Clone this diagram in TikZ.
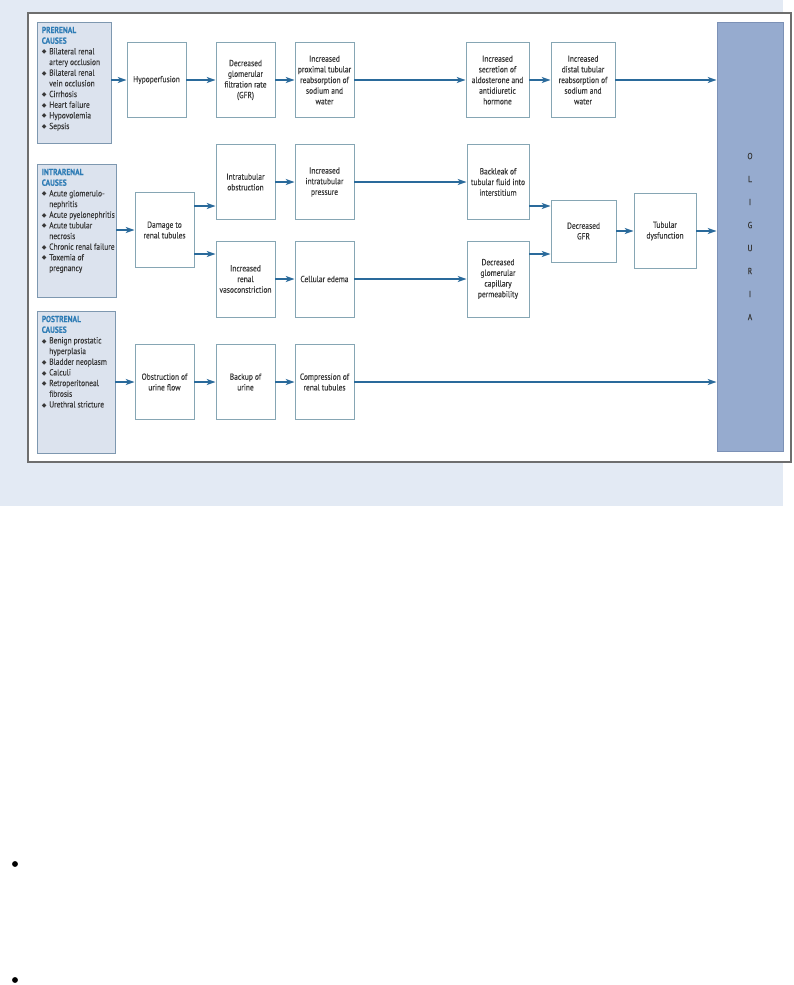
\documentclass[tikz,border=0pt]{standalone}
\usepackage{fontspec}
\setmainfont{PT Sans}[FakeStretch=0.85,FakeBold=0.15]
\newfontfamily\symfont{DejaVu Sans}
\usetikzlibrary{arrows.meta,calc}
\definecolor{bgblue}{HTML}{E3EAF4}
\definecolor{framegray}{HTML}{6E6E6E}
\definecolor{causefill}{HTML}{DCE3EE}
\definecolor{causeline}{HTML}{7E98B0}
\definecolor{boxline}{HTML}{86A6B4}
\definecolor{flowblue}{HTML}{2A6A9B}
\definecolor{headblue}{HTML}{2E7CB5}
\definecolor{txtgray}{HTML}{383838}
\definecolor{oligfill}{HTML}{96ABCF}
\definecolor{oligline}{HTML}{7C91B6}
\newcommand{\dm}{\makebox[5.6pt][l]{\raisebox{0.3pt}{\symfont\fontsize{4.6}{4.6}\selectfont ◆}}}
\newcommand{\cont}{\hspace*{5.6pt}}
\newcommand{\hd}[1]{\textcolor{headblue}{\bfseries #1}}

\begin{document}
\begin{tikzpicture}[x=0.75pt,y=-0.75pt, >={Stealth[length=6.5pt,width=4.4pt,inset=1.6pt]},
  every node/.style={font=\fontsize{6.6}{8}\selectfont, text=txtgray},
  procbox/.style={draw=boxline, fill=white, line width=0.7pt, align=center, inner sep=1pt,
    minimum width=44.25pt, minimum height=56.25pt},
  causebox/.style={draw=causeline, fill=causefill, line width=0.7pt, inner sep=0pt},
  causetext/.style={anchor=north west, align=left, inner sep=0pt},
  flow/.style={->, draw=flowblue, line width=1.5pt}]
\useasboundingbox (0,0) rectangle (793,985);
\fill[bgblue] (0,0) rectangle (783,506);
\draw[framegray, fill=white, line width=0.8pt] (28,13) rectangle (791,462);

\node[causebox, minimum width=55.5pt, minimum height=90.75pt] (pre) at (74,82.5) {};
\node[causetext] (pretxt) at ($(pre.north west)+(5,5)$) {\hd{PRERENAL}\\\hd{CAUSES}\\
  \dm Bilateral renal\\\cont artery occlusion\\\dm Bilateral renal\\\cont vein occlusion\\
  \dm Cirrhosis\\\dm Heart failure\\\dm Hypovolemia\\\dm Sepsis};
\node[causebox, minimum width=59.25pt, minimum height=99.75pt] (intra) at (76.5,230.5) {};
\node[causetext] (intratxt) at ($(intra.north west)+(5,5)$) {\hd{INTRARENAL}\\\hd{CAUSES}\\
  \dm Acute glomerulo-\\\cont nephritis\\\dm Acute pyelonephritis\\\dm Acute tubular\\\cont necrosis\\
  \dm Chronic renal failure\\\dm Toxemia of\\\cont pregnancy};
\node[causebox, minimum width=58.5pt, minimum height=106.5pt] (post) at (76,382) {};
\node[causetext] (posttxt) at ($(post.north west)+(5,5)$) {\hd{POSTRENAL}\\\hd{CAUSES}\\
  \dm Benign prostatic\\\cont hyperplasia\\\dm Bladder neoplasm\\\dm Calculi\\
  \dm Retroperitoneal\\\cont fibrosis\\\dm Urethral stricture};

\node[draw=oligline, fill=oligfill, line width=0.7pt, minimum width=49.5pt, minimum height=321.75pt,
  align=center, font=\fontsize{6.6}{17.25}\selectfont] (olig) at (750,236.5) {O\\L\\I\\G\\U\\R\\I\\A};

\node[procbox] (hypo) at (156.5,80) {Hypoperfusion};
\node[procbox] (gfr) at (245.5,80) {Decreased\\glomerular\\filtration rate\\(GFR)};
\node[procbox] (prox) at (324.5,80) {Increased\\proximal tubular\\reabsorption of\\sodium and\\water};
\node[procbox, minimum width=47.25pt] (aldo) at (497.5,80) {Increased\\secretion of\\aldosterone and\\antidiuretic\\hormone};
\node[procbox, minimum width=48pt] (distal) at (583,80) {Increased\\distal tubular\\reabsorption of\\sodium and\\water};

\node[procbox] (damage) at (164.5,230) {Damage to\\renal tubules};
\node[procbox] (intob) at (245.5,182) {Intratubular\\obstruction};
\node[procbox] (intpr) at (324.5,182) {Increased\\intratubular\\pressure};
\node[procbox, minimum width=46.5pt] (back) at (498,182) {Backleak of\\tubular fluid into\\interstitium};
\node[procbox, minimum height=57pt] (vaso) at (245.5,279) {Increased\\renal\\vasoconstriction};
\node[procbox, minimum height=57pt] (edema) at (324.5,279) {Cellular edema};
\node[procbox, minimum width=46.5pt, minimum height=57pt] (perm) at (498,279) {Decreased\\glomerular\\capillary\\permeability};
\node[procbox, minimum width=48.75pt, minimum height=46.5pt] (decgfr) at (583.5,231) {Decreased\\GFR};
\node[procbox, minimum width=46.5pt] (tubdys) at (665,231) {Tubular\\dysfunction};

\node[procbox] (obst) at (164.5,382) {Obstruction of\\urine flow};
\node[procbox] (backup) at (245.5,382) {Backup of\\urine};
\node[procbox] (comp) at (324.5,382) {Compression of\\renal tubules};

\draw[flow] (pre.east |- hypo.west) -- (hypo.west);
\draw[flow] (hypo) -- (gfr);
\draw[flow] (gfr) -- (prox);
\draw[flow] (prox) -- (aldo);
\draw[flow] (aldo) -- (distal);
\draw[flow] (distal.east) -- (olig.west |- distal.east);

\coordinate (d1) at ($(damage.east)+(0,-24)$);
\coordinate (d2) at ($(damage.east)+(0,24)$);
\coordinate (b1) at ($(back.east)+(0,24)$);
\coordinate (p1) at ($(perm.east)+(0,-25)$);
\draw[flow] (intra.east |- damage.west) -- (damage.west);
\draw[flow] (d1) -- (d1 -| intob.west);
\draw[flow] (d2) -- (d2 -| vaso.west);
\draw[flow] (intob) -- (intpr);
\draw[flow] (intpr) -- (back);
\draw[flow] (vaso) -- (edema);
\draw[flow] (edema) -- (perm);
\draw[flow] (b1) -- (b1 -| decgfr.west);
\draw[flow] (p1) -- (p1 -| decgfr.west);
\draw[flow] (decgfr) -- (tubdys);
\draw[flow] (tubdys.east) -- (olig.west |- tubdys.east);

\draw[flow] (post.east |- obst.west) -- (obst.west);
\draw[flow] (obst) -- (backup);
\draw[flow] (backup) -- (comp);
\draw[flow] (comp.east) -- (olig.west |- comp.east);

\fill[black] (15,864) circle (2.2pt);
\fill[black] (15,980) circle (2.2pt);
\end{tikzpicture}
\end{document}
